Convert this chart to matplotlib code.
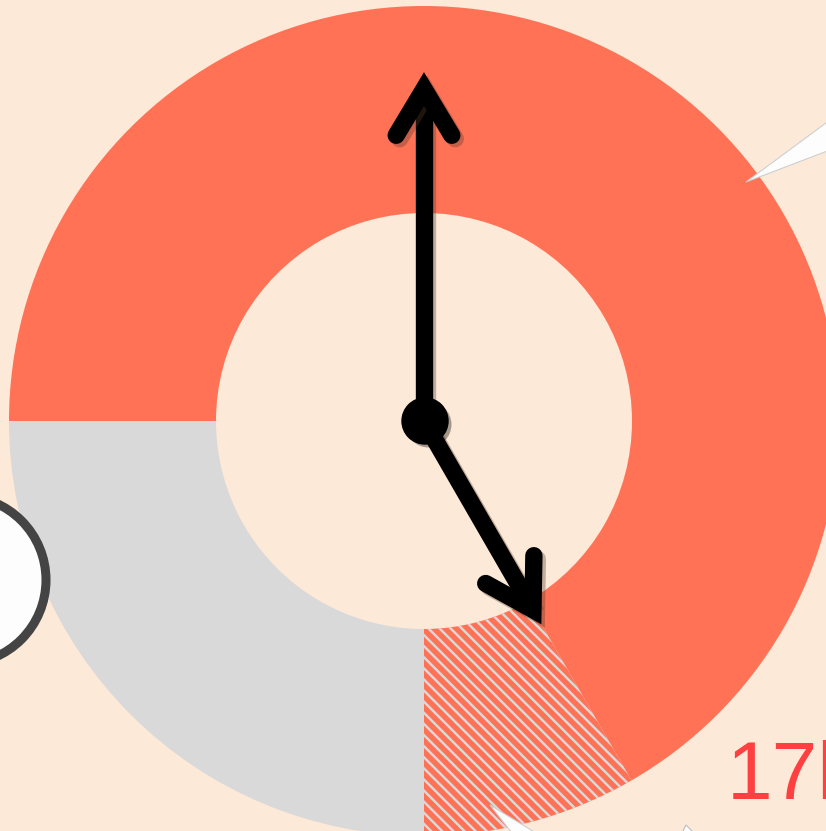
import matplotlib.pyplot as plt
import matplotlib.patheffects as pe
from matplotlib.patches import Circle, Polygon
import numpy as np

# hours on the clock face, starting at 9 o'clock and going clockwise
segments = ['busy', 'now', 'free']
hours = [8, 1, 3]
colors = ['#ff7256', '#ff7256', '#d9d9d9']
hour_now = 17
minute_now = 0
label = '17h'

W, H = 826, 831
cx, cy = 424, H - 421
R = 415
ring = 207

plt.rcParams['hatch.linewidth'] = 1.75
fig = plt.figure(figsize=(W / 100, H / 100), dpi=100)
fig.patch.set_facecolor('#fde9d8')
ax = fig.add_axes([0, 0, 1, 1])
ax.set_facecolor('#fde9d8')

wedges, _ = ax.pie(hours, colors=colors, startangle=180, counterclock=False,
                   center=(cx, cy), radius=R, frame=True,
                   wedgeprops=dict(width=ring, linewidth=0))
ax.set_xlim(0, W)
ax.set_ylim(0, H)
ax.set_aspect('equal')
ax.axis('off')
# current hour drawn striped
wedges[1].set_edgecolor('#d9d9d9')
wedges[1].set_hatch('\\\\\\')
wedges[1].set_linewidth(0)

shadow = [pe.SimpleLineShadow(offset=(2.5, -2.5), shadow_color='#5a3a2a', alpha=0.35),
          pe.Normal()]


def hand(angle_deg, length):
    a = np.radians(angle_deg)
    tx, ty = cx + length * np.cos(a), cy + length * np.sin(a)
    ax.plot([cx, tx], [cy, ty], color='black', lw=12.5,
            solid_capstyle='butt', path_effects=shadow, zorder=5)
    arm = 54
    pts = []
    for s in (-1, 1):
        b = a + np.pi + s * np.radians(31)
        pts.append((tx + arm * np.cos(b), ty + arm * np.sin(b)))
    ax.plot([pts[0][0], tx, pts[1][0]], [pts[0][1], ty, pts[1][1]],
            color='black', lw=12.5, solid_capstyle='round',
            solid_joinstyle='miter', path_effects=shadow, zorder=5)


hand(90 - minute_now * 6, 0.80 * R)
hand(90 - (hour_now % 12 + minute_now / 60) * 30, 0.525 * R)

dot = Circle((cx + 1, cy), 23, color='black', zorder=6,
             path_effects=[pe.SimplePatchShadow(offset=(2.5, -2.5), alpha=0.35), pe.Normal()])
ax.add_patch(dot)

# callout pieces cut by the frame
ax.add_patch(Polygon([(746, H - 182), (830, H - 120), (830, H - 150)],
                     closed=True, facecolor='#fdfdfd', edgecolor='#cfcfcf', lw=0.8, zorder=4))
ax.add_patch(Polygon([(490, H - 805), (512, H - 833), (536, H - 833)],
                     closed=True, facecolor='#fdfdfd', edgecolor='#cfcfcf', lw=0.8, zorder=4))
ax.add_patch(Polygon([(686, H - 825), (682, H - 833), (694, H - 833)],
                     closed=True, facecolor='#fdfdfd', edgecolor='#bdbdbd', lw=0.8, zorder=4))
ax.add_patch(Circle((-38, H - 580), 84, facecolor='#fdfdfd', edgecolor='#444444',
                    lw=6.5, zorder=4))

ax.text(727, H - 799, label, color='#ff4040', fontsize=59,
        family='Liberation Sans', ha='left', va='baseline', zorder=7)

fig.savefig('out.png', dpi=100, facecolor=fig.get_facecolor())
